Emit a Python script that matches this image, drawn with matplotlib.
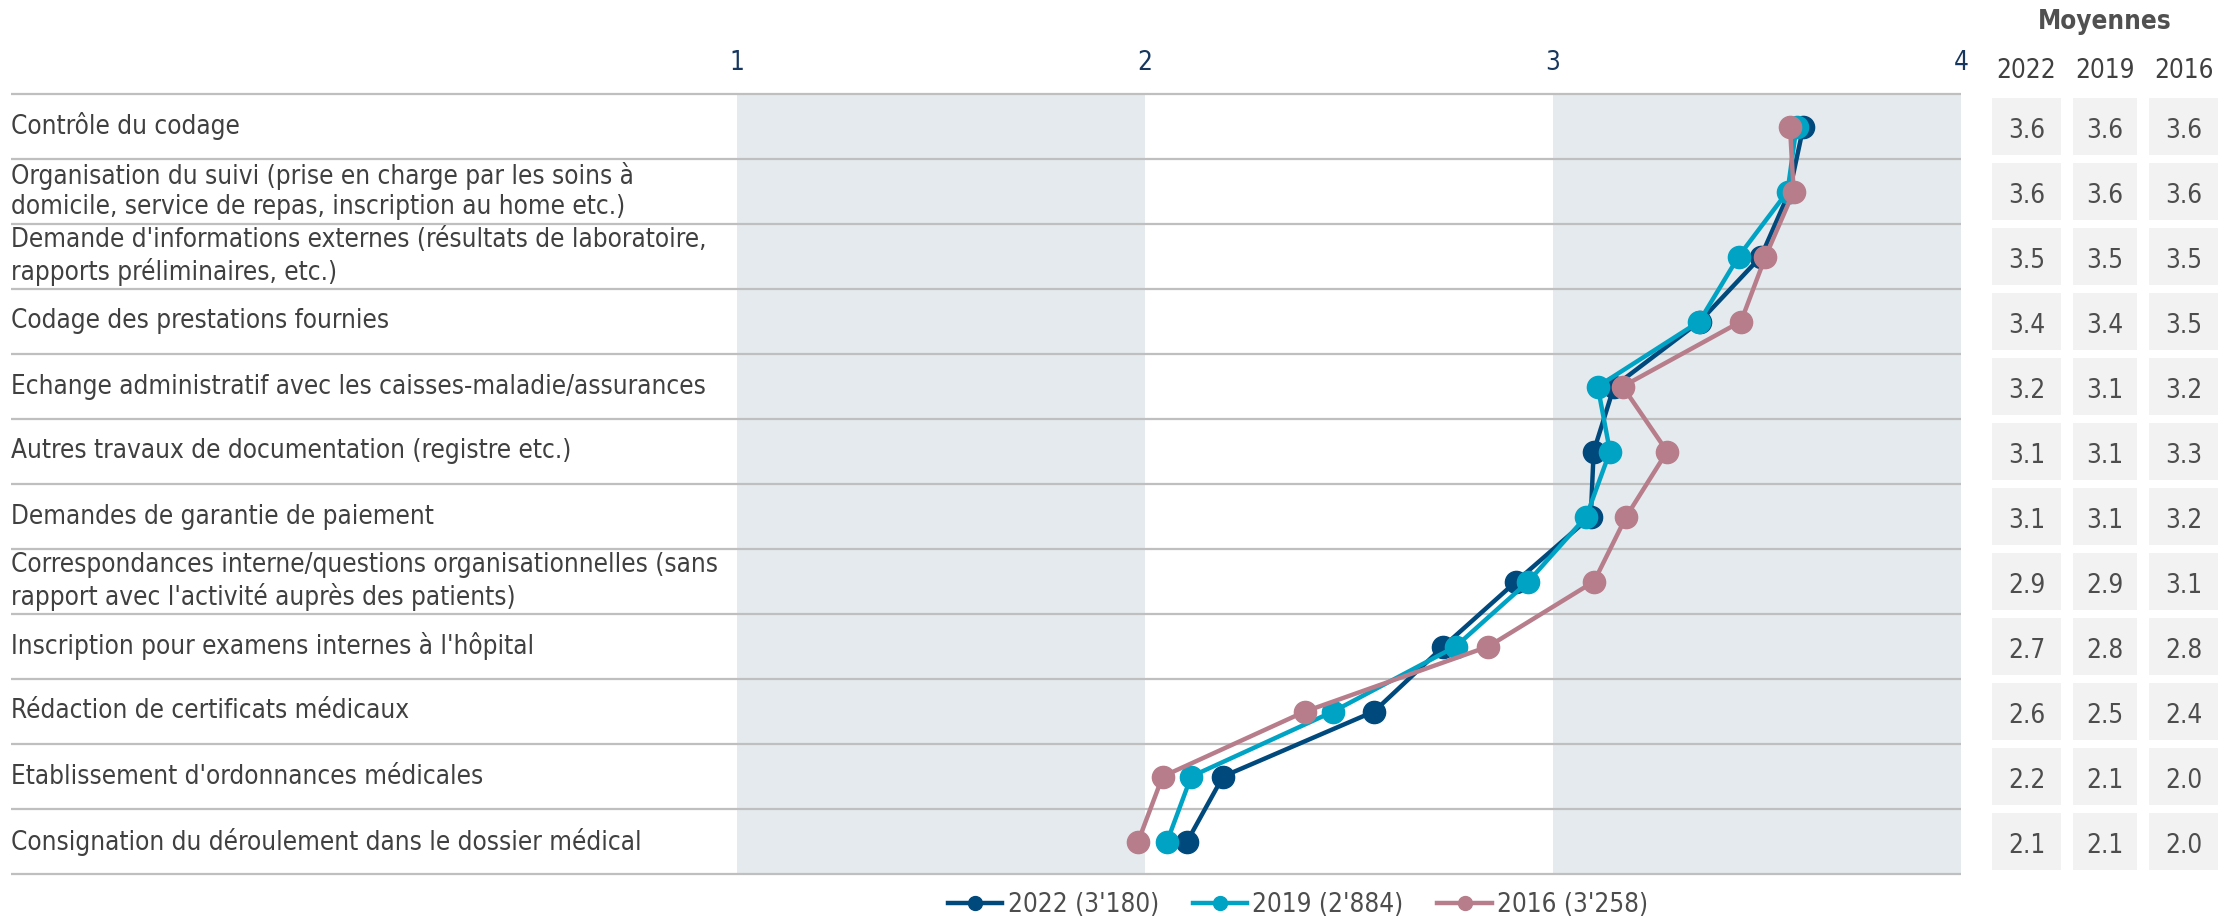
import matplotlib
matplotlib.use("Agg")
import matplotlib.pyplot as plt
from matplotlib import font_manager
from matplotlib.font_manager import FontProperties
from matplotlib.lines import Line2D
from matplotlib.patches import Rectangle

# ---------------- data ----------------
categories = [
    "Contrôle du codage",
    "Organisation du suivi (prise en charge par les soins à\ndomicile, service de repas, inscription au home etc.)",
    "Demande d'informations externes (résultats de laboratoire,\nrapports préliminaires, etc.)",
    "Codage des prestations fournies",
    "Echange administratif avec les caisses-maladie/assurances",
    "Autres travaux de documentation (registre etc.)",
    "Demandes de garantie de paiement",
    "Correspondances interne/questions organisationnelles (sans\nrapport avec l'activité auprès des patients)",
    "Inscription pour examens internes à l'hôpital",
    "Rédaction de certificats médicaux",
    "Etablissement d'ordonnances médicales",
    "Consignation du déroulement dans le dossier médical",
]
values_2022 = [3.614, 3.58, 3.51, 3.36, 3.15, 3.10, 3.093, 2.91, 2.732, 2.562, 2.192, 2.104]
values_2019 = [3.597, 3.575, 3.455, 3.359, 3.11, 3.14, 3.082, 2.94, 2.762, 2.462, 2.114, 2.055]
values_2016 = [3.581, 3.59, 3.521, 3.461, 3.171, 3.28, 3.18, 3.101, 2.842, 2.393, 2.044, 1.984]
means_2022 = ["3.6", "3.6", "3.5", "3.4", "3.2", "3.1", "3.1", "2.9", "2.7", "2.6", "2.2", "2.1"]
means_2019 = ["3.6", "3.6", "3.5", "3.4", "3.1", "3.1", "3.1", "2.9", "2.8", "2.5", "2.1", "2.1"]
means_2016 = ["3.6", "3.6", "3.5", "3.5", "3.2", "3.3", "3.2", "3.1", "2.8", "2.4", "2.0", "2.0"]
series_labels = ["2022 (3'180)", "2019 (2'884)", "2016 (3'258)"]
year_headers = ["2022", "2019", "2016"]
table_title = "Moyennes"
x_ticks = [1, 2, 3, 4]

# ---------------- fonts ----------------
cond = None
cond_bold = None
for f in font_manager.fontManager.ttflist:
    base = f.fname.split("/")[-1]
    if base == "DejaVuSansCondensed.ttf":
        cond = f.fname
    if base == "DejaVuSansCondensed-Bold.ttf":
        cond_bold = f.fname

if cond:
    fs = 18.7
    def fp(size=fs, bold=False):
        if bold and cond_bold:
            return FontProperties(fname=cond_bold, size=size)
        return FontProperties(fname=cond, size=size, weight="bold" if bold else "normal")
else:
    fs = 16.5
    def fp(size=fs, bold=False):
        return FontProperties(family="DejaVu Sans", size=size, weight="bold" if bold else "normal")

# ---------------- layout ----------------
W, H = 2238, 919
fig = plt.figure(figsize=(W / 100, H / 100), dpi=100)
fig.patch.set_facecolor("white")

def fx(px):
    return px / W

def fy(py):
    return 1 - py / H

L, R, T, B = 736.5, 1961.0, 94.0, 874.0
ax = fig.add_axes([fx(L), fy(B), (R - L) / W, (B - T) / H])
n = len(categories)
ax.set_xlim(1, 4)
ax.set_ylim(n, 0)
for s in ax.spines.values():
    s.set_visible(False)
ax.set_yticks([])

# shaded bands
ax.axvspan(1, 2, color="#E5EAEE", zorder=0, lw=0)
ax.axvspan(3, 4, color="#E5EAEE", zorder=0, lw=0)

# row separators
x0_axes = (11 - L) / (R - L)
ytr = ax.get_yaxis_transform()
for i in range(n + 1):
    ax.plot([x0_axes, 1], [i, i], transform=ytr, color="#BFBFBF", lw=1.6,
            clip_on=False, zorder=1, solid_capstyle="butt")

# category labels
for i, lab in enumerate(categories):
    ax.text(x0_axes, i + 0.5, lab, transform=ytr, ha="left", va="center",
            color="#404040", fontproperties=fp(), linespacing=1.2)

# top ticks
ax.set_xticks(x_ticks)
ax.set_xticklabels([str(t) for t in x_ticks])
ax.xaxis.tick_top()
ax.tick_params(axis="x", length=0, pad=13, colors="#17375E")
for t in ax.get_xticklabels():
    t.set_fontproperties(fp())

# series
ypos = [i + 0.5 for i in range(n)]
colors = ["#00497C", "#00A3C4", "#B77D8B"]
series = [values_2022, values_2019, values_2016]
for k, (vals, c) in enumerate(zip(series, colors)):
    ax.plot(vals, ypos, color=c, lw=3.2, marker="o", ms=16, mec=c, mfc=c,
            zorder=3 + k)

# table
TL, TR = 1985, 2225
tax = fig.add_axes([fx(TL), fy(B), (TR - TL) / W, (B - T) / H])
tax.set_xlim(TL, TR)
tax.set_ylim(n, 0)
tax.axis("off")
box_cols = [(1992, 2061), (2073, 2137), (2149, 2218)]
box_h = 57 / 65
for col, (xa, xb) in enumerate(box_cols):
    vals = [means_2022, means_2019, means_2016][col]
    for i in range(n):
        tax.add_patch(Rectangle((xa, i + 0.5 - box_h / 2), xb - xa, box_h,
                                facecolor="#F2F2F2", edgecolor="none"))
        tax.text((xa + xb) / 2, i + 0.57, vals[i], ha="center", va="center",
                 color="#4D4D4D", fontproperties=fp())
    fig.text(fx((xa + xb) / 2), fy(71), year_headers[col], ha="center", va="center",
             color="#404040", fontproperties=fp())
fig.text(fx(2105), fy(22), table_title, ha="center", va="center",
         color="#505050", fontproperties=fp(bold=True))

# legend
handles = [Line2D([0], [0], color=c, lw=3.2, marker="o", ms=10, mec=c, mfc=c)
           for c in colors]
leg = fig.legend(handles, series_labels, loc="center",
                 bbox_to_anchor=(fx(1298), fy(905)), ncol=3, frameon=False,
                 handlelength=2.1, handletextpad=0.2, columnspacing=1.3,
                 prop=fp(), labelcolor="#4D4D4D")

fig.savefig("out.png", dpi=100, facecolor="white")
